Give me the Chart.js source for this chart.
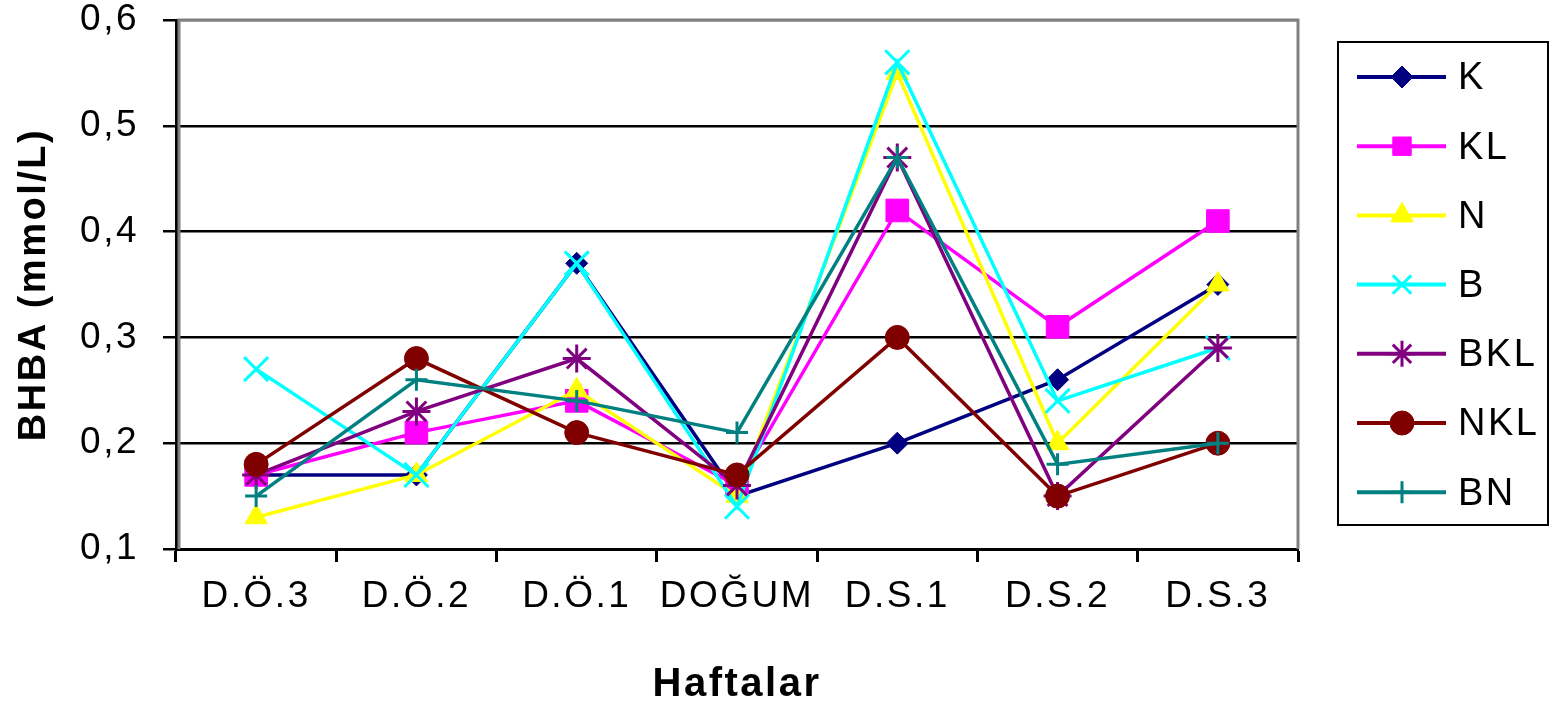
<!DOCTYPE html>
<html>
<head>
<meta charset="utf-8">
<script src="https://cdn.jsdelivr.net/npm/chart.js@4"></script>
<style>
  html, body { margin: 0; padding: 0; background: #fff; }
  #wrap { width: 1551px; height: 705px; }
</style>
</head>
<body>
<div id="wrap"><canvas id="bhbaChart" width="1551" height="705"></canvas></div>
<script>
const weeks = ['D.Ö.3', 'D.Ö.2', 'D.Ö.1', 'DOĞUM', 'D.S.1', 'D.S.2', 'D.S.3'];

const seriesK   = [0.17, 0.17, 0.37, 0.15, 0.20, 0.26, 0.35];
const seriesKL  = [0.17, 0.21, 0.24, 0.16, 0.42, 0.31, 0.41];
const seriesN   = [0.13, 0.17, 0.25, 0.15, 0.55, 0.20, 0.35];
const seriesB   = [0.27, 0.17, 0.37, 0.14, 0.56, 0.24, 0.29];
const seriesBKL = [0.17, 0.23, 0.28, 0.16, 0.47, 0.15, 0.29];
const seriesNKL = [0.18, 0.28, 0.21, 0.17, 0.30, 0.15, 0.20];
const seriesBN  = [0.15, 0.26, 0.24, 0.21, 0.47, 0.18, 0.20];

const yTicks = [0.1, 0.2, 0.3, 0.4, 0.5, 0.6];

const FONT = 'Liberation Sans, Arial, sans-serif';

function makeSet(label, data, color, style, radius, fill) {
    return {
        label: label,
        data: data,
        borderColor: color,
        backgroundColor: fill ? color : 'transparent',
        pointBackgroundColor: color,
        pointBorderColor: color,
        pointStyle: style,
        pointRadius: radius,
        pointBorderWidth: fill ? 1 : 3,
        borderWidth: 3.5,
        tension: 0,
        fill: false
    };
}

const datasets = [
    makeSet('K',   seriesK,   '#000080', 'rectRot',  11, true),
    makeSet('KL',  seriesKL,  '#FF00FF', 'rect',     16, true),
    makeSet('N',   seriesN,   '#FFFF00', 'triangle', 13, true),
    makeSet('B',   seriesB,   '#00FFFF', 'crossRot', 17, false),
    makeSet('BKL', seriesBKL, '#800080', 'star',     14, false),
    makeSet('NKL', seriesNKL, '#800000', 'circle',   12, true),
    makeSet('BN',  seriesBN,  '#008080', 'cross',    11, false)
];
// later series drawn on top, like the original
datasets.forEach((d, i) => { d.order = datasets.length - i; });

// the original text is a bit wider than Arial, add some spacing
const wideText = {
    id: 'wideText',
    beforeUpdate(chart) { chart.ctx.letterSpacing = '2.5px'; },
    beforeDraw(chart) { chart.ctx.letterSpacing = '2.5px'; }
};

// gray frame on top / left / right of the plot area
const frameLines = {
    id: 'frameLines',
    beforeDatasetsDraw(chart) {
        const { ctx, chartArea: a } = chart;
        ctx.save();
        ctx.strokeStyle = '#808080';
        ctx.lineWidth = 3;
        ctx.beginPath();
        ctx.moveTo(a.left + 3, a.bottom);
        ctx.lineTo(a.left + 3, a.top);
        ctx.lineTo(a.right, a.top);
        ctx.lineTo(a.right, a.bottom);
        ctx.stroke();
        ctx.restore();
    }
};

// boxed legend on the right with line + marker samples
const boxLegend = {
    id: 'boxLegend',
    afterDraw(chart) {
        const ctx = chart.ctx;
        const boxX = 1338, boxY = 42, boxW = 210, boxH = 483;
        ctx.save();
        ctx.strokeStyle = '#000';
        ctx.lineWidth = 2;
        ctx.strokeRect(boxX, boxY, boxW, boxH);

        ctx.font = '38px ' + FONT;
        ctx.textBaseline = 'middle';
        ctx.textAlign = 'left';
        chart.data.datasets.forEach((ds, i) => {
            const y = 77 + i * 69.2;
            ctx.strokeStyle = ds.borderColor;
            ctx.lineWidth = 4;
            ctx.beginPath();
            ctx.moveTo(1357, y);
            ctx.lineTo(1446, y);
            ctx.stroke();

            ctx.fillStyle = ds.pointBackgroundColor;
            ctx.strokeStyle = ds.pointBorderColor;
            ctx.lineWidth = ds.pointBorderWidth;
            Chart.helpers.drawPoint(ctx, {
                pointStyle: ds.pointStyle,
                radius: Math.min(ds.pointRadius, 13),
                rotation: 0,
                borderWidth: ds.pointBorderWidth
            }, 1402, y);

            ctx.fillStyle = '#000';
            ctx.fillText(ds.label, 1458, y + 2);
        });
        ctx.restore();
    }
};

new Chart(document.getElementById('bhbaChart'), {
    type: 'line',
    data: { labels: weeks, datasets: datasets },
    options: {
        responsive: false,
        animation: false,
        layout: { padding: { top: 19, right: 253, left: 0, bottom: 0 } },
        plugins: {
            legend: { display: false },
            tooltip: { enabled: false }
        },
        scales: {
            x: {
                offset: true,
                afterFit: (scale) => { scale.height = 156; },
                border: { color: '#000', width: 3 },
                grid: {
                    offset: true,
                    drawOnChartArea: false,
                    drawTicks: true,
                    tickLength: 13,
                    tickColor: '#000',
                    tickWidth: 3
                },
                ticks: {
                    color: '#000',
                    padding: 16,
                    maxRotation: 0,
                    font: { family: FONT, size: 37, lineHeight: 1 }
                },
                title: {
                    display: true,
                    text: 'Haftalar',
                    color: '#000',
                    padding: 0,
                    font: { family: FONT, size: 40, weight: 'bold', lineHeight: 1 }
                }
            },
            y: {
                min: 0.1,
                max: 0.6,
                afterFit: (scale) => {
                    scale.width = 176;
                    scale.paddingTop = 0;
                    scale.paddingBottom = 0;
                },
                afterBuildTicks: (scale) => { scale.ticks = yTicks.map(v => ({ value: v })); },
                border: { color: '#000', width: 3 },
                grid: {
                    color: (c) => (c.tick && c.tick.value >= 0.59 ? '#808080' : '#000'),
                    lineWidth: 2.5,
                    tickLength: 13,
                    tickColor: '#000',
                    tickWidth: 2.5
                },
                ticks: {
                    color: '#000',
                    padding: 24,
                    font: { family: FONT, size: 37, lineHeight: 1 },
                    callback: (v) => Number(v).toFixed(1).replace('.', ',')
                },
                title: {
                    display: true,
                    text: 'BHBA (mmol/L)',
                    color: '#000',
                    padding: { top: 12, bottom: 0 },
                    font: { family: FONT, size: 38, weight: 'bold', lineHeight: 1.2 }
                }
            }
        }
    },
    plugins: [wideText, frameLines, boxLegend]
});
</script>
</body>
</html>
